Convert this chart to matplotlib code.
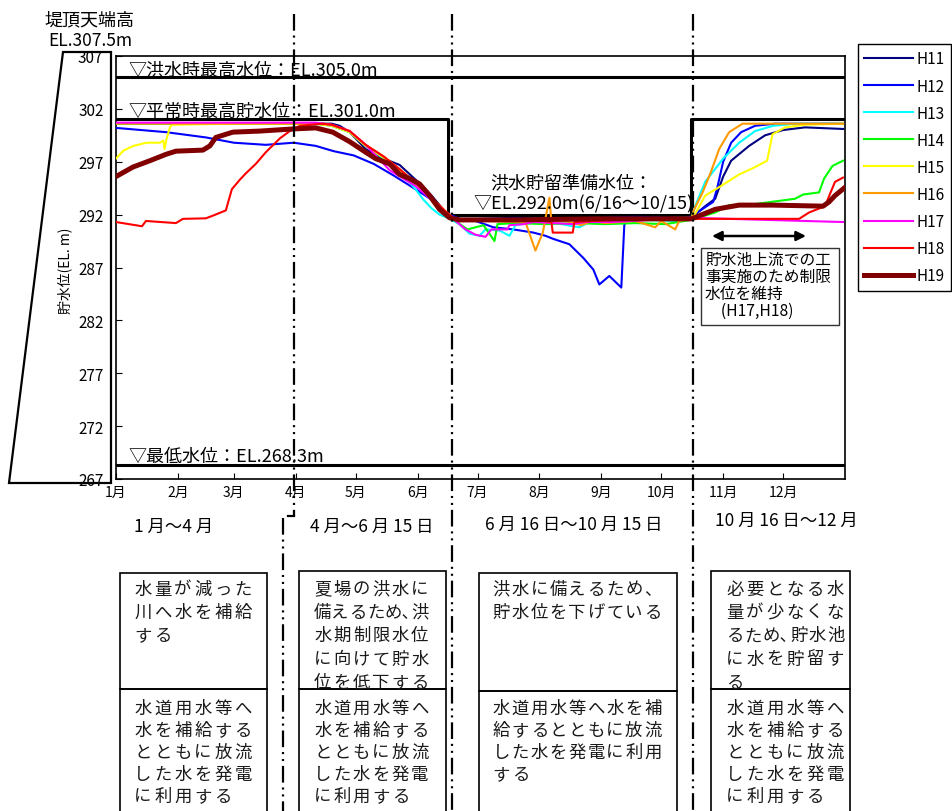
"""Reservoir operation chart: daily storage level H11-H19 with the rule curve
and the seasonal operation notes underneath."""

import matplotlib

matplotlib.use("Agg")
import matplotlib.pyplot as plt
from matplotlib.lines import Line2D
from matplotlib.patches import Polygon, Rectangle

plt.rcParams["font.family"] = ["Noto Sans CJK JP", "DejaVu Sans"]
plt.rcParams["lines.scale_dashes"] = False

W, H = 953, 812
TEXT = "#1a1a1a"

# --- axis data ------------------------------------------------------------
MONTH_DAYS = [0, 31, 59, 90, 120, 151, 181, 212, 243, 273, 304, 334]
MONTH_LABELS = [f"{m}月" for m in range(1, 13)]
Y_TICKS = [267, 272, 277, 282, 287, 292, 297, 302, 307]

# operating rule (black), day of year from Jan 1
RULE_DAY = [0, 166, 166, 288, 288, 365]
RULE_LVL = [301.0, 301.0, 292.0, 292.0, 301.0, 301.0]
FLOOD_LVL = 305.0
LOW_LVL = 268.3

# --- yearly records (day of year, EL. m) ----------------------------------
h11_day = [0, 60, 100, 108, 112, 117, 121, 125, 130, 134, 138, 142, 146, 150, 154,
           158, 162, 166, 170, 180, 200, 220, 240, 260, 280, 288, 290, 295, 300,
           304, 308, 317, 325, 334, 345, 364]
h11_lvl = [300.6, 300.6, 300.6, 300.6, 300.4, 299.8, 299.0, 298.2, 297.6, 297.3,
           297.0, 296.7, 296.0, 295.3, 294.6, 293.8, 292.9, 292.0, 291.6, 291.6,
           291.7, 291.6, 291.7, 291.8, 291.7, 291.8, 292.0, 292.8, 293.5, 295.6,
           297.1, 298.5, 299.5, 300.0, 300.25, 300.1]

h12_day = [0, 25, 45, 59, 75, 89, 100, 109, 119, 129, 139, 150, 159, 166, 172, 180,
           189, 199, 209, 215, 219, 227, 234, 239, 242, 247, 253, 254.5, 256, 270,
           288, 291, 295, 299, 301, 304, 308, 313, 320, 330, 364]
h12_lvl = [300.2, 299.8, 299.3, 298.8, 298.6, 298.8, 298.5, 298.0, 297.6, 296.8,
           295.7, 294.4, 293.3, 292.1, 291.6, 291.4, 290.8, 290.6, 290.3, 290.0,
           289.7, 289.2, 287.9, 286.8, 285.4, 286.2, 285.1, 291.0, 291.7, 291.6,
           291.7, 292.2, 292.7, 293.2, 294.5, 297.0, 298.8, 299.8, 300.4, 300.6,
           300.6]

h13_day = [0, 100, 108, 117, 125, 134, 142, 150, 154, 158, 162, 166, 172, 177, 182,
           185, 192, 197, 200, 210, 220, 232, 237, 250, 265, 280, 288, 290, 295,
           304, 312, 320, 329, 340, 364]
h13_lvl = [300.6, 300.6, 300.4, 299.8, 298.5, 297.3, 296.1, 294.4, 293.4, 292.6,
           292.0, 291.7, 291.1, 290.2, 290.0, 290.6, 290.5, 290.0, 291.0, 291.3,
           291.2, 290.8, 291.3, 291.4, 291.5, 291.4, 291.6, 292.8, 295.1, 297.3,
           298.8, 299.9, 300.4, 300.6, 300.6]

h14_day = [0, 100, 108, 117, 125, 134, 142, 150, 158, 165, 170, 176, 184, 189.5,
           191, 200, 215, 230, 245, 260, 275, 288, 300, 307, 320, 332, 340, 344,
           352, 354.5, 358.7, 364]
h14_lvl = [300.6, 300.6, 300.4, 299.8, 298.5, 297.4, 296.2, 294.9, 293.5, 292.2,
           291.4, 290.6, 291.0, 289.5, 291.1, 291.2, 291.1, 291.2, 291.1, 291.2,
           291.1, 291.5, 292.2, 292.9, 293.0, 293.3, 293.5, 293.9, 294.1, 295.4,
           296.6, 297.1]

h15_day = [0, 3.7, 8.7, 15.3, 22, 23.7, 24.3, 25.3, 27, 28, 60, 100, 108, 117, 125,
           134, 142, 150, 158, 165, 170, 200, 240, 288, 289.5, 295, 302, 312, 320,
           326, 328.7, 335, 345, 364]
h15_lvl = [297.3, 298.05, 298.5, 298.8, 298.8, 299.0, 298.2, 299.15, 300.25, 300.5,
           300.6, 300.6, 300.4, 299.8, 298.5, 297.4, 296.2, 294.9, 293.5, 292.2,
           291.5, 291.5, 291.6, 291.7, 291.9, 293.8, 294.6, 295.8, 296.5, 297.1,
           299.6, 300.25, 300.5, 300.6]

h16_day = [0, 100, 108, 117, 125, 134, 142, 150, 158, 165, 170, 185, 205, 210,
           213.7, 217, 218, 225, 233, 238, 245, 260, 270, 273, 280, 282, 288,
           289.5, 293.7, 297.8, 302, 307, 313.7, 364]
h16_lvl = [300.6, 300.6, 300.5, 299.9, 298.6, 297.5, 296.3, 295.0, 293.6, 292.3,
           291.5, 291.4, 291.3, 288.6, 290.3, 293.6, 291.3, 291.4, 291.0, 291.4,
           291.2, 291.4, 290.8, 291.4, 290.6, 291.4, 291.6, 292.5, 294.1, 296.0,
           298.2, 299.8, 300.6, 300.6]

h17_day = [0, 100, 108, 117, 125, 137, 150, 158.7, 167, 175, 180, 185, 188, 196,
           197, 204, 209, 229, 235, 248, 258, 288, 364]
h17_lvl = [300.7, 300.7, 300.5, 299.9, 298.6, 296.2, 294.7, 293.3, 291.9, 290.6,
           290.1, 289.9, 290.6, 290.6, 291.0, 291.1, 291.3, 291.1, 291.3, 291.3,
           291.4, 291.7, 291.3]

h18_day = [0, 13, 15, 30, 33.5, 45, 48.5, 55, 58, 62, 65, 70, 75, 82, 87, 92, 103.5,
           108, 117, 125, 134, 142, 150, 158, 165, 170, 190, 210, 218, 218.7, 228.7,
           229.5, 250, 288, 342, 347, 355, 357.8, 360, 364]
h18_lvl = [291.3, 290.9, 291.4, 291.2, 291.6, 291.65, 291.9, 292.4, 294.4, 295.3,
           295.9, 296.8, 297.9, 299.2, 299.9, 300.4, 300.6, 300.5, 299.9, 298.6,
           297.5, 296.3, 295.0, 293.6, 292.3, 291.5, 291.5, 291.5, 291.3, 290.3,
           290.3, 291.3, 291.5, 291.6, 291.6, 292.2, 292.8, 294.1, 295.1, 295.5]

h19_day = [0, 8.5, 17, 25, 30, 43.5, 47, 50, 58.5, 72, 88.5, 100, 108.5, 117, 125,
           130, 137, 142, 147, 152, 157, 162, 167, 172, 200, 240, 288, 289.5, 300,
           312, 329, 354, 357, 360, 364.5]
h19_lvl = [295.6, 296.5, 297.1, 297.7, 298.0, 298.1, 298.5, 299.3, 299.8, 299.9,
           300.1, 300.2, 299.8, 298.9, 297.9, 297.3, 296.8, 295.8, 295.4, 294.9,
           293.8, 292.5, 291.7, 291.5, 291.5, 291.6, 291.6, 291.7, 292.5, 292.9,
           292.9, 292.8, 293.2, 293.8, 294.5]

SERIES = [
    ("H11", h11_day, h11_lvl, "#000080", 1.5),
    ("H12", h12_day, h12_lvl, "#0000FF", 1.5),
    ("H13", h13_day, h13_lvl, "#00FFFF", 1.5),
    ("H14", h14_day, h14_lvl, "#00FF00", 1.5),
    ("H15", h15_day, h15_lvl, "#FFFF00", 1.5),
    ("H16", h16_day, h16_lvl, "#FF9900", 1.5),
    ("H17", h17_day, h17_lvl, "#FF00FF", 1.5),
    ("H18", h18_day, h18_lvl, "#FF0000", 1.5),
    ("H19", h19_day, h19_lvl, "#800000", 3.6),
]

PERIODS = ["1 月～4 月", "4 月～6 月 15 日", "6 月 16 日～10 月 15 日", "10 月 16 日～12 月"]
PURPOSE = [
    ["水量が減った", "川へ水を補給", "する"],
    ["夏場の洪水に", "備えるため､洪", "水期制限水位", "に向けて貯水", "位を低下する"],
    ["洪水に備えるため、", "貯水位を下げている"],
    ["必要となる水", "量が少なくな", "るため､貯水池", "に水を貯留す", "る"],
]
USE = [
    ["水道用水等へ", "水を補給する", "とともに放流", "した水を発電", "に利用する"],
    ["水道用水等へ", "水を補給する", "とともに放流", "した水を発電", "に利用する"],
    ["水道用水等へ水を補", "給するとともに放流", "した水を発電に利用", "する"],
    ["水道用水等へ", "水を補給する", "とともに放流", "した水を発電", "に利用する"],
]


def fx(px):
    return px / W


def fy(py):
    return 1 - py / H


fig = plt.figure(figsize=(W / 100, H / 100), dpi=100)
fig.patch.set_facecolor("white")


def ptext(x, y, s, size=13, ha="left", va="center", **kw):
    fig.text(fx(x), fy(y), s, size=size, ha=ha, va=va, color=kw.pop("color", "black"), **kw)


def fig_line(xs, ys, **kw):
    fig.add_artist(Line2D([fx(v) for v in xs], [fy(v) for v in ys],
                          transform=fig.transFigure, **kw))


# --- main axes ------------------------------------------------------------
ax = fig.add_axes([fx(116), fy(480), fx(845) - fx(116), fy(57) - fy(480)])
ax.set_xlim(0, 365)
ax.set_ylim(267, 307)
ax.set_xticks(MONTH_DAYS)
ax.set_xticklabels(MONTH_LABELS)
ax.set_yticks(Y_TICKS)
ax.tick_params(axis="both", direction="in", length=4, width=0.8, labelsize=10)
ax.tick_params(axis="y", pad=9, labelsize=11)
ax.tick_params(axis="x", pad=4)
for sp in ax.spines.values():
    sp.set_linewidth(1.2)

ax.axhline(FLOOD_LVL, color="black", lw=2.2, zorder=2)
ax.axhline(LOW_LVL, color="black", lw=2.2, zorder=2)
ax.plot(RULE_DAY, RULE_LVL, color="black", lw=2.2, zorder=2)

handles = []
for name, d, v, c, lw in SERIES:
    ax.plot(d, v, color=c, lw=lw, zorder=3, solid_joinstyle="round")
    handles.append(Line2D([], [], color=c, lw=lw, label=name))

leg = fig.legend(handles=handles, loc="upper left", bbox_to_anchor=(fx(858), fy(45)),
                 frameon=True, fancybox=False, edgecolor="black", framealpha=1,
                 fontsize=11, handlelength=3.2, handletextpad=0.2, labelspacing=0.66,
                 borderpad=0.42, borderaxespad=0)
leg.get_frame().set_linewidth(1.0)

# --- annotations in the plot ---------------------------------------------
ptext(128, 70, "▽洪水時最高水位：EL.305.0m")
ptext(128, 112, "▽平常時最高貯水位：EL.301.0m")
ptext(128, 457, "▽最低水位：EL.268.3m")
ptext(490, 183, "洪水貯留準備水位：")
ptext(473, 204, "▽EL.292.0m(6/16～10/15)")

fig.add_artist(Rectangle((fx(701), fy(326)), fx(839) - fx(701), fy(249) - fy(326),
                         transform=fig.transFigure, fill=False, lw=1.0, edgecolor="#333333"))
for i, s in enumerate(["貯水池上流での工", "事実施のため制限", "水位を維持", "　(H17,H18)"]):
    ptext(705, 260 + i * 17, s, size=11.3)
ax.annotate("", xy=(fx(806), fy(237)), xytext=(fx(712), fy(237)),
            xycoords="figure fraction", textcoords="figure fraction",
            arrowprops=dict(arrowstyle="<|-|>", color="black", lw=1.8, mutation_scale=14,
                            shrinkA=0, shrinkB=0))

# --- dam outline and crest label -------------------------------------------
fig.add_artist(Polygon([(fx(63), fy(53)), (fx(111), fy(53)), (fx(111), fy(484)),
                        (fx(9), fy(484))], closed=True, fill=False, lw=1.6,
                       edgecolor="black", transform=fig.transFigure))
ptext(89, 20, "堤頂天端高", size=13, ha="center")
ptext(90, 41, "EL.307.5m", size=12.5, ha="center")
ptext(65, 271, "貯水位(EL. m)", size=10, ha="center", rotation=90)

# --- period dividers --------------------------------------------------------
DIV = dict(color="black", lw=1.6, dashes=(12, 3.5, 1.5, 3.5, 1.5, 3.5))
fig_line([294, 294], [15, 517], **DIV)
fig_line([288, 294], [517, 517], color="black", lw=1.6)
fig_line([283, 283], [519, 815], **DIV)
fig_line([452, 452], [15, 815], **DIV)
fig_line([693, 693], [15, 815], **DIV)

for s, (x, y) in zip(PERIODS, [(174, 527), (372, 527), (574, 525), (786, 521)]):
    ptext(x, y, s, size=12.5, ha="center")

# --- operation notes -------------------------------------------------------
BOXES = [  # left, right, top, middle, text x, char pitch
    (120, 267, 574, 690, 133, 20.0),
    (299, 446, 572, 690, 313, 19.4),
    (479, 677, 574, 692, 492, 18.9),
    (711, 850, 572, 690, 725, 20.0),
]
BOX_SIZE = 12.5
EM = BOX_SIZE * 100 / 72


def grid_text(x0, y0, pitch_x, pitch_y, lines):
    # lines holding a half-width comma are squeezed into the plain line width
    width = max(len(s) for s in lines if "､" not in s) * pitch_x
    for r, line in enumerate(lines):
        slots = sum(0.5 if ch == "､" else 1.0 for ch in line)
        px = min(pitch_x, width / slots)
        x = x0
        base = y0 + r * pitch_y + 0.38 * EM
        for ch in line:
            if ch == "､":
                fig.text(fx(x - 1), fy(base), ch, size=BOX_SIZE, ha="left",
                         va="baseline", color=TEXT)
                x += px * 0.5
                continue
            fig.text(fx(x + (px - EM) / 2), fy(base), ch, size=BOX_SIZE,
                     ha="left", va="baseline", color=TEXT)
            x += px


for (l, r, t, m, tx, p), top_lines, low_lines in zip(BOXES, PURPOSE, USE):
    fig.add_artist(Rectangle((fx(l), fy(m)), fx(r) - fx(l), fy(t) - fy(m),
                             transform=fig.transFigure, fill=False, lw=1.2, edgecolor="black"))
    fig.add_artist(Rectangle((fx(l), fy(820)), fx(r) - fx(l), fy(m) - fy(820),
                             transform=fig.transFigure, fill=False, lw=1.2, edgecolor="black"))
    grid_text(tx, 588, p, 23.3, top_lines)
    grid_text(tx, 707, p, 22.0, low_lines)

fig.savefig("out.png", dpi=100)
